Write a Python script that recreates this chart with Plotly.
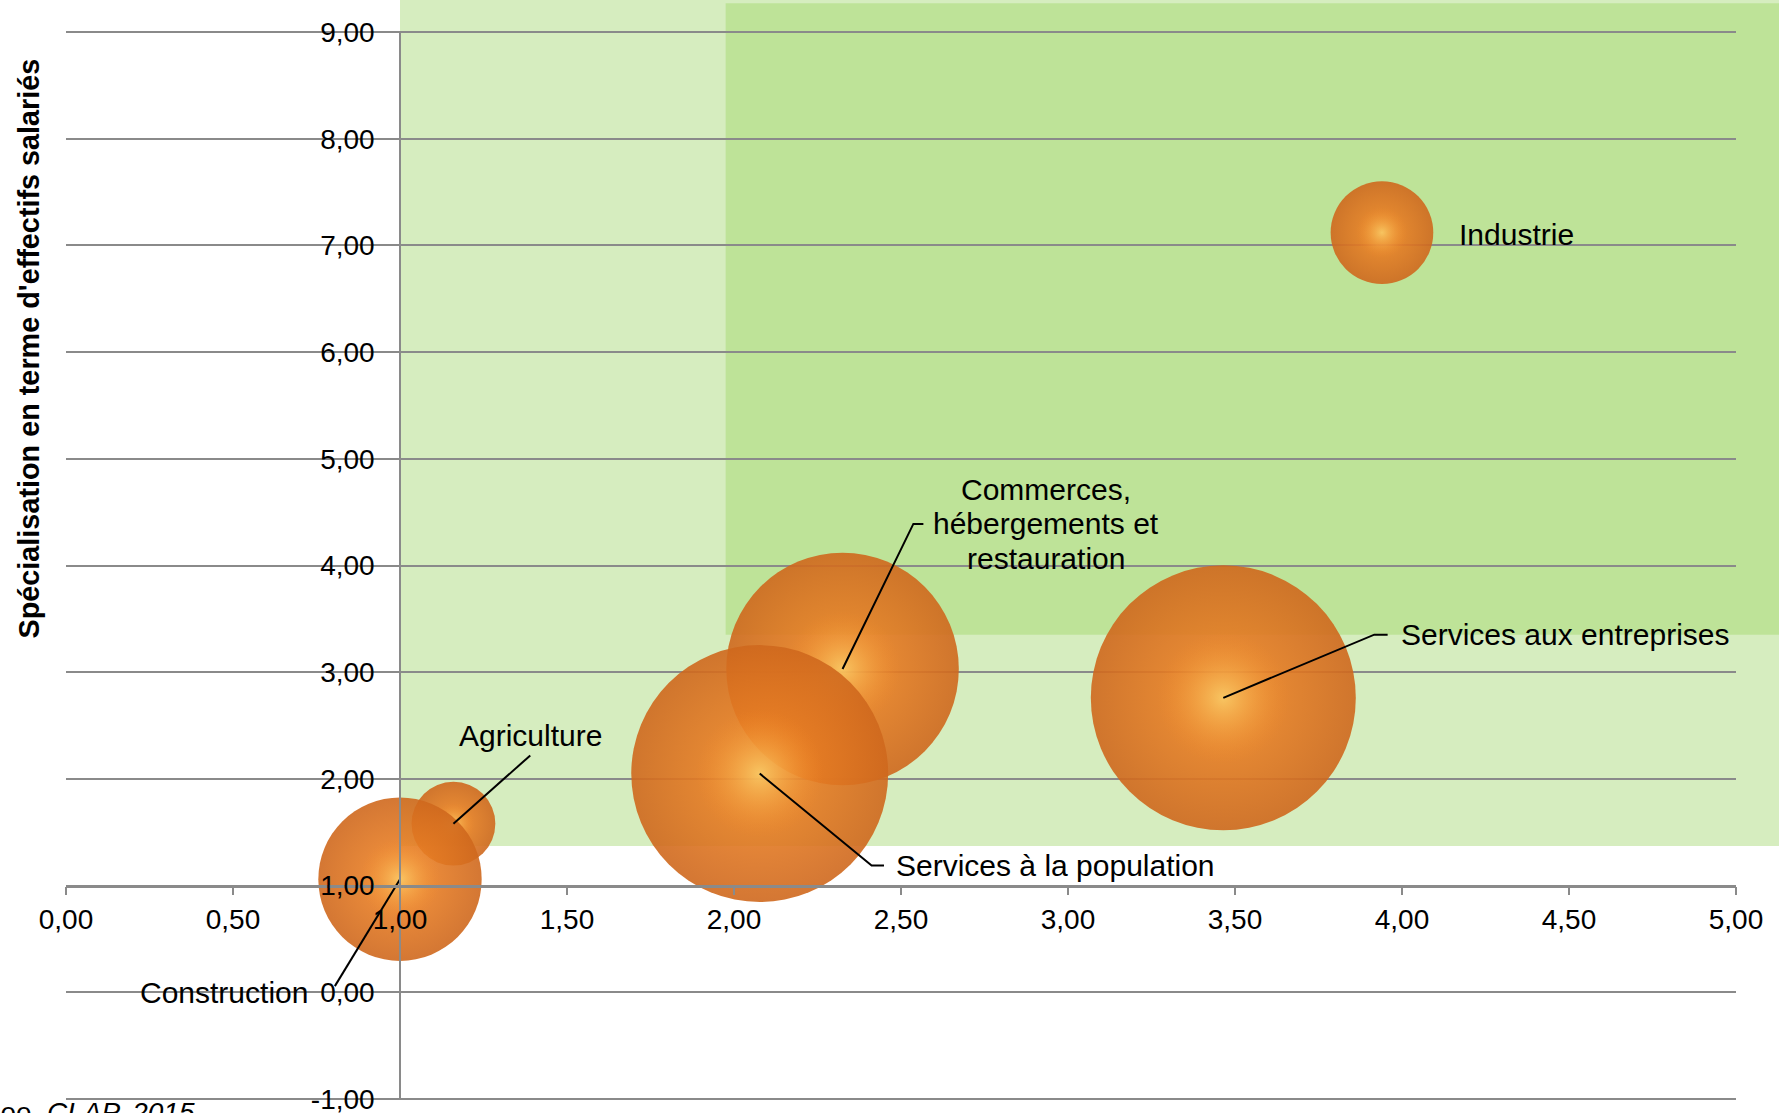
import plotly.graph_objects as go

# ---------------- data (drawing order: back to front) ----------------
categories = ["Industrie", "Services aux entreprises",
              "Commerces, hébergements et restauration",
              "Services à la population", "Agriculture", "Construction"]
spec_etab = [3.94, 3.465, 2.325, 2.077, 1.16, 1.00]      # x
spec_salaries = [7.12, 2.76, 3.03, 2.05, 1.58, 1.06]     # y
effectifs_rel = [15, 100, 77, 94, 10, 38]                 # bubble size (relative)

x_tick_vals = [0, 0.5, 1, 1.5, 2, 2.5, 3, 3.5, 4, 4.5, 5]
y_tick_vals = [-1, 0, 1, 2, 3, 4, 5, 6, 7, 8, 9]
y_tick_text = ["-1,00", "0,00", "1,00", "2,00", "3,00", "4,00",
               "5,00", "6,00", "7,00", "8,00", "9,00"]

y_title = "Spécialisation en terme d'effectifs salariés"
source_text = "Source : Insee, <i>CLAP, 2015</i>"

# ---------------- layout helpers ----------------
X_RANGE = [0, 5]
Y_RANGE = [-1, 9]
FONT = "Liberation Sans, Arial, sans-serif"
GRID = "#8a8a8a"
LIGHT_GREEN = "#D6EDBF"
DARK_GREEN = "#BEE398"


def px_(x):
    return (x - X_RANGE[0]) / (X_RANGE[1] - X_RANGE[0])


def py_(y):
    return (y - Y_RANGE[0]) / (Y_RANGE[1] - Y_RANGE[0])


# label placement (layout only)
label_pos = {
    "Industrie": dict(x=4.165, y=7.10, xanchor="left", lines=["Industrie"]),
    "Services aux entreprises": dict(x=3.99, y=3.35, xanchor="left",
                                     lines=["Services aux entreprises"]),
    "Commerces, hébergements et restauration": dict(
        x=2.935, y=4.39, xanchor="center",
        lines=["Commerces,", "hébergements et", "restauration"]),
    "Services à la population": dict(x=2.48, y=1.19, xanchor="left",
                                     lines=["Services à la population"]),
    "Agriculture": dict(x=1.39, y=2.41, xanchor="center", lines=["Agriculture"]),
    "Construction": dict(x=0.732, y=0.0, xanchor="right", lines=["Construction"]),
}
# leader line waypoints after the bubble centre (layout only)
leader_pts = {
    "Services aux entreprises": [(3.917, 3.352), (3.957, 3.352)],
    "Commerces, hébergements et restauration": [(2.537, 4.39), (2.567, 4.39)],
    "Services à la population": [(2.412, 1.188), (2.449, 1.188)],
    "Agriculture": [(1.39, 2.22)],
    "Construction": [(0.805, 0.058)],
}

MAX_D = 265
sizeref = 2.0 * max(effectifs_rel) / MAX_D ** 2

fig = go.Figure()

for i, cat in enumerate(categories):
    fig.add_trace(go.Scatter(
        x=[spec_etab[i]], y=[spec_salaries[i]], mode="markers",
        marker=dict(size=[effectifs_rel[i]], sizemode="area", sizeref=sizeref,
                    color="#CF681D", opacity=0.9,
                    gradient=dict(type="radial", color="#F68A27"),
                    line=dict(width=0)),
        cliponaxis=False, hoverinfo="text", text=[cat], showlegend=False))
    fig.add_trace(go.Scatter(
        x=[spec_etab[i]], y=[spec_salaries[i]], mode="markers",
        marker=dict(size=[effectifs_rel[i]], sizemode="area", sizeref=sizeref / 0.25,
                    color="rgba(246,138,39,0)",
                    gradient=dict(type="radial", color="rgba(250,224,122,0.92)"),
                    line=dict(width=0)),
        cliponaxis=False, hoverinfo="skip", showlegend=False))

# leader lines
for i, cat in enumerate(categories):
    if cat in leader_pts:
        xs = [spec_etab[i]] + [p[0] for p in leader_pts[cat]]
        ys = [spec_salaries[i]] + [p[1] for p in leader_pts[cat]]
        fig.add_trace(go.Scatter(x=xs, y=ys, mode="lines",
                                 line=dict(color="black", width=2),
                                 hoverinfo="skip", showlegend=False, cliponaxis=False))

annotations = []
LINE_GAP = 0.32  # data units between lines of a multi-line label
for cat in categories:
    lp = label_pos[cat]
    n = len(lp["lines"])
    for k, t in enumerate(lp["lines"]):
        annotations.append(dict(
            x=lp["x"], y=lp["y"] + ((n - 1) / 2 - k) * LINE_GAP,
            xref="x", yref="y", text=t, showarrow=False,
            xanchor=lp["xanchor"], yanchor="middle",
            font=dict(family=FONT, size=30, color="black")))

annotations.append(dict(
    x=-0.0219, y=0.7038, xref="paper", yref="paper", text="<b>" + y_title + "</b>",
    textangle=-90, showarrow=False, xanchor="center", yanchor="middle",
    font=dict(family=FONT, size=28.8, color="black")))
annotations.append(dict(
    x=0.0784, y=0.0041, xref="paper", yref="paper", text=source_text,
    showarrow=False, xanchor="right", yanchor="top",
    font=dict(family=FONT, size=28, color="black")))

shapes = [
    dict(type="rect", xref="paper", yref="paper", layer="below",
         x0=px_(1.0), x1=1.03, y0=py_(1.37), y1=1.04,
         fillcolor=LIGHT_GREEN, line=dict(width=0)),
    dict(type="rect", xref="paper", yref="paper", layer="below",
         x0=px_(1.975), x1=1.03, y0=py_(3.35), y1=1.027,
         fillcolor=DARK_GREEN, line=dict(width=0)),
]
# gridlines at the two range ends (plotly omits them at the edges)
for yv in (Y_RANGE[0], Y_RANGE[1]):
    shapes.append(dict(type="line", xref="paper", yref="paper", layer="below",
                       x0=0, x1=1, y0=py_(yv), y1=py_(yv),
                       line=dict(color=GRID, width=2)))

fig.update_layout(
    width=1779, height=1113,
    margin=dict(l=66, r=43, t=32, b=14, pad=0, autoexpand=False),
    paper_bgcolor="white", plot_bgcolor="rgba(0,0,0,0)",
    separators=", ",
    font=dict(family=FONT, size=28, color="black"),
    annotations=annotations, shapes=shapes, showlegend=False,
    xaxis=dict(range=X_RANGE, tickvals=x_tick_vals, tickformat=".2f",
               showgrid=False, zeroline=False, anchor="free", position=py_(1.0),
               showline=True, linecolor=GRID, linewidth=2.5,
               ticks="outside", ticklen=8, tickwidth=1.5, tickcolor=GRID,
               tickfont=dict(family=FONT, size=28, color="black"),
               ticklabelstandoff=0, automargin=False),
    yaxis=dict(range=Y_RANGE, tickvals=y_tick_vals, ticktext=y_tick_text,
               showgrid=True, gridcolor=GRID, gridwidth=2, zeroline=False,
               anchor="free", position=px_(1.0),
               showline=True, linecolor=GRID, linewidth=1.5,
               ticks="", tickfont=dict(family=FONT, size=28, color="black"),
               ticklabelstandoff=19, ticklabeloverflow="allow", automargin=False),
)

fig.write_html("out.html", config={"displayModeBar": False},
               post_script="document.body.style.margin='0px';")
